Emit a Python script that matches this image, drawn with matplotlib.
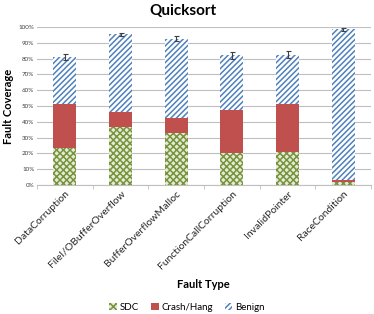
import matplotlib
matplotlib.use("Agg")
import matplotlib.pyplot as plt
import numpy as np

plt.rcParams['font.family'] = ['Lato', 'DejaVu Sans']
plt.rcParams['hatch.linewidth'] = 1.1

categories = ["DataCorruption", "FileI/OBufferOverflow", "BufferOverflowMalloc",
              "FunctionCallCorruption", "InvalidPointer", "RaceCondition"]
sdc = [23.5, 37.0, 33.0, 20.0, 21.0, 2.0]
crash = [27.5, 9.5, 9.5, 27.5, 30.0, 1.0]
benign = [30.0, 49.0, 50.0, 34.5, 31.5, 95.5]
err = [2.0, 1.0, 1.5, 2.0, 2.0, 1.0]

fig = plt.figure(figsize=(3.74, 3.14), dpi=100)
ax = fig.add_axes([0.099, 0.411, 0.893, 0.503])

x = np.arange(len(categories))
w = 0.41
green = "#77933C"
red = "#C0504D"
blue = "#4F81BD"

ax.bar(x, sdc, w, color="#E4ECD6", edgecolor=green, hatch="xxxxx", linewidth=0, label="SDC", zorder=3)
b1 = np.array(sdc)
ax.bar(x, crash, w, bottom=b1, color=red, linewidth=0, label="Crash/Hang", zorder=3)
b2 = b1 + np.array(crash)
ax.bar(x, benign, w, bottom=b2, color="white", edgecolor=blue, hatch="//////", linewidth=0, label="Benign", zorder=3)
tot = b2 + np.array(benign)
ax.errorbar(x, tot, yerr=err, fmt="none", ecolor="#404040", elinewidth=0.8, capsize=1.8, capthick=0.8, zorder=4)

ax.set_xlim(-0.5, len(categories) - 0.5)
ax.set_ylim(0, 100)
ax.set_yticks(np.arange(0, 101, 10))
ax.set_yticklabels([f"{v}%" for v in range(0, 101, 10)], fontsize=4.5, color="#404040")
ax.yaxis.grid(True, color="#BFBFBF", linewidth=0.8, zorder=0)
ax.set_axisbelow(True)
ax.tick_params(axis="y", length=0, pad=2)

ax.set_xticks(x)
ax.set_xticklabels(categories, rotation=45, ha="right", rotation_mode="anchor", fontsize=7.5, color="#262626")
ax.set_xticks(np.arange(-0.5, len(categories), 1), minor=True)
ax.tick_params(axis="x", which="major", length=0, pad=3)
ax.tick_params(axis="x", which="minor", length=3, color="#BFBFBF", direction="out")

for s in ["top", "right", "left"]:
    ax.spines[s].set_visible(False)
ax.spines["bottom"].set_color("#BFBFBF")

ax.set_ylabel("Fault Coverage", fontsize=8, fontweight="bold", labelpad=3)
fig.text(0.545, 0.095, "Fault Type", ha="center", va="center", fontsize=8, fontweight="bold")
fig.text(0.49, 0.966, "Quicksort", ha="center", va="center", fontsize=11, fontweight="bold")

h, l = ax.get_legend_handles_labels()
fig.legend(h, l, loc="center", bbox_to_anchor=(0.5, 0.022), ncol=3, frameon=False, fontsize=7,
           handlelength=0.8, handleheight=0.8, handletextpad=0.3, columnspacing=1.2)

fig.savefig("out.png", dpi=100)
